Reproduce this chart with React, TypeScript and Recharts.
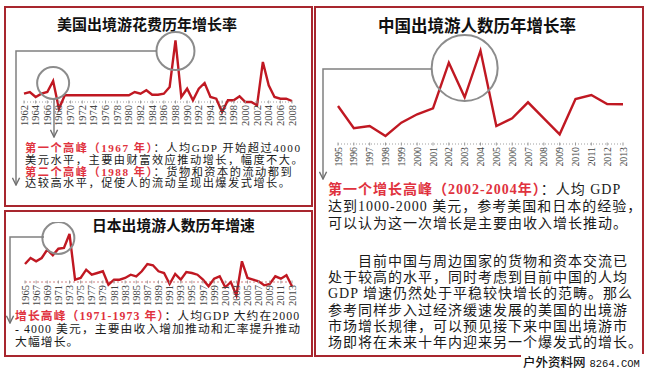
import { LineChart, Line, XAxis, YAxis, ReferenceLine, ReferenceDot } from 'recharts'

// 美国出境游花费历年增长率 (1962-2008)
const usYears = [
  1962, 1963, 1964, 1965, 1966, 1967, 1968, 1969, 1970, 1971, 1972, 1973, 1974, 1975, 1976, 1977,
  1978, 1979, 1980, 1981, 1982, 1983, 1984, 1985, 1986, 1987, 1988, 1989, 1990, 1991, 1992, 1993,
  1994, 1995, 1996, 1997, 1998, 1999, 2000, 2001, 2002, 2003, 2004, 2005, 2006, 2007, 2008,
]
const usGrowth = [
  8.3, 10, 5, 8.3, 10, 21, -6.7, 6.7, 6.7, 6.7, 6.7, 6.7, 6.7, 6.7, 6.7, 6.7,
  6.7, 6.7, 6.7, 10, 8.3, 11.7, 7.3, 7.3, 8.3, 15, 61.7, 5, 13.3, 1.7, 13.3, 19,
  5, 3.3, -10, 1.7, 1.7, 5.7, 0, 0, -3.3, 40, 16.7, 5, 3.3, 3.3, 1,
]

// 日本出境游人数历年增速 (1965-2013)
const jpYears = [
  1965, 1966, 1967, 1968, 1969, 1970, 1971, 1972, 1973, 1974, 1975, 1976, 1977, 1978, 1979, 1980,
  1981, 1982, 1983, 1984, 1985, 1986, 1987, 1988, 1989, 1990, 1991, 1992, 1993, 1994, 1995, 1996,
  1997, 1998, 1999, 2000, 2001, 2002, 2003, 2004, 2005, 2006, 2007, 2008, 2009, 2010, 2011, 2012, 2013,
]
const jpGrowth = [
  18, 24, 20.7, 24, 32.3, 26.7, 33.3, 34, 48, 2.3, 4, 12.3, 7.3, 9, 10.7, -2.7,
  2.3, 2.3, 4, 7.3, 5.7, 10.7, 18, 16.7, 10.7, 9, -2, 8, 2.3, 10, 9, 7.3,
  2.3, -4.3, 3.3, 5.7, -5.3, 0, -13.3, 20.7, 4, 2.3, 0.7, -3.3, -2, 5.7, 3.3, 6.7, -4.3,
]

// 中国出境游人数历年增长率 (1995-2013)
const cnYears = [
  1995, 1996, 1997, 1998, 1999, 2000, 2001, 2002, 2003, 2004, 2005, 2006, 2007, 2008, 2009, 2010,
  2011, 2012, 2013,
]
const cnGrowth = [38, 15.7, 18, 8, 21.3, 29.7, 35.7, 81.3, 46.7, 93.3, 18, 25.7, 41.7, 25.7, 9.7, 45, 49, 40, 39.7]

const usData = usYears.map((year, i) => ({ year, growth: usGrowth[i] }))
const jpData = jpYears.map((year, i) => ({ year, growth: jpGrowth[i] }))
const cnData = cnYears.map((year, i) => ({ year, growth: cnGrowth[i] }))

const serifCJK = "'Liberation Serif', 'Noto Sans CJK SC', serif"
const sansCJK = "'Noto Sans CJK SC', sans-serif"
const red = '#e0323e'
const frame = '#a8262e'
const lineColor = '#c01822'
const ringColor = '#8c8c8c'

function YearTick({ x, y, payload, lift, size }: any) {
  const zy = y - lift
  return (
    <g>
      <line x1={x} x2={x} y1={zy - 1.5} y2={zy + 1.5} stroke="#999" />
      <text
        transform={`translate(${x},${zy + 3}) rotate(-90)`}
        textAnchor="end"
        dominantBaseline="central"
        fontSize={size}
        fontFamily="'Liberation Serif', serif"
        fill="#444"
      >
        {payload.value}
      </text>
    </g>
  )
}

type Seg = [string, boolean?]

function TextLine({ segs, style }: { segs: Seg[]; style?: React.CSSProperties }) {
  return (
    <div style={{ whiteSpace: 'nowrap', ...style }}>
      {segs.map(([t, hot], i) => (
        <span key={i} style={hot ? { color: red, fontWeight: 700 } : undefined}>{t}</span>
      ))}
    </div>
  )
}

function Title({ text, left, top, size }: { text: string; left: number; top: number; size: number }) {
  return (
    <div
      style={{
        position: 'absolute', left, top, fontSize: size, lineHeight: `${size}px`,
        fontFamily: sansCJK, fontWeight: 700, color: '#111', whiteSpace: 'nowrap',
      }}
    >
      {text}
    </div>
  )
}

export default function App() {
  return (
    <div style={{ position: 'absolute', left: 0, top: 0, width: 650, height: 373, background: '#fff', overflow: 'hidden' }}>
      {/* frames */}
      <div style={{ position: 'absolute', left: 4, top: 6, width: 309, height: 201, border: `2px solid ${frame}`, boxSizing: 'border-box' }} />
      <div style={{ position: 'absolute', left: 4, top: 210, width: 309, height: 147, border: `2px solid ${frame}`, boxSizing: 'border-box' }} />
      <div style={{ position: 'absolute', left: 314, top: 6, width: 330, height: 351, border: `2px solid ${frame}`, boxSizing: 'border-box' }} />

      <Title text="美国出境游花费历年增长率" left={57} top={16} size={15} />
      <Title text="日本出境游人数历年增速" left={92} top={218} size={14.8} />
      <Title text="中国出境游人数历年增长率" left={378} top={17} size={16.5} />

      {/* US chart */}
      <div style={{ position: 'absolute', left: 0, top: 30 }}>
        <LineChart width={310} height={110} data={usData} margin={{ top: 6, right: 18, bottom: 0, left: 24 }}>
          <XAxis
            dataKey="year" scale="point" interval={1} height={26}
            axisLine={false} tickLine={false} tickSize={0} tickMargin={0}
            tick={(p: any) => <YearTick {...p} lift={12} size={10.5} />}
          />
          <YAxis hide domain={[-12, 66]} />
          <ReferenceLine y={0} stroke="#a0a0a0" strokeDasharray="1 2" />
          <Line dataKey="growth" stroke={lineColor} strokeWidth={2.4} dot={false} isAnimationActive={false} />
          <ReferenceDot x={1967} y={19} r={16} fill="none" stroke={ringColor} strokeWidth={2} />
          <ReferenceDot x={1988} y={51} r={19} fill="none" stroke={ringColor} strokeWidth={2} />
        </LineChart>
      </div>

      {/* Japan chart */}
      <div style={{ position: 'absolute', left: 0, top: 222 }}>
        <LineChart width={310} height={104} data={jpData} margin={{ top: 10, right: 18, bottom: 0, left: 25 }}>
          <XAxis
            dataKey="year" scale="point" interval={1} height={30}
            axisLine={false} tickLine={false} tickSize={0} tickMargin={0}
            tick={(p: any) => <YearTick {...p} lift={14} size={10.5} />}
          />
          <YAxis hide domain={[-14, 50]} />
          <ReferenceLine y={0} stroke="#d08080" strokeDasharray="2 2" />
          <Line dataKey="growth" stroke={lineColor} strokeWidth={2.4} dot={false} isAnimationActive={false} />
          <ReferenceDot x={1971} y={44} r={16} fill="none" stroke={ringColor} strokeWidth={2} />
        </LineChart>
      </div>

      {/* China chart */}
      <div style={{ position: 'absolute', left: 310, top: 30 }}>
        <LineChart width={335} height={145} data={cnData} margin={{ top: 14, right: 22, bottom: 0, left: 28 }}>
          <XAxis
            dataKey="year" scale="point" interval={0} height={31}
            axisLine={false} tickLine={false} tickSize={0} tickMargin={0}
            tick={(p: any) => <YearTick {...p} lift={0} size={9.8} />}
          />
          <YAxis hide domain={[0, 100]} />
          <ReferenceLine y={0} stroke="#a0a0a0" strokeDasharray="1 2" />
          <Line dataKey="growth" stroke={lineColor} strokeWidth={2.4} dot={false} isAnimationActive={false} />
          <ReferenceDot x={2003} y={76} r={33} fill="none" stroke={ringColor} strokeWidth={2} />
        </LineChart>
      </div>

      {/* connectors */}
      <svg width={650} height={373} style={{ position: 'absolute', left: 0, top: 0, pointerEvents: 'none' }}>
        <defs>
          <marker id="arr" viewBox="0 0 10 10" refX="9" refY="5" markerWidth="6" markerHeight="6" orient="auto">
            <path d="M1,1 L9,5 L1,9" fill="none" stroke="#707070" strokeWidth={1.6} />
          </marker>
        </defs>
        <g fill="none" stroke="#808080" strokeWidth={1.5}>
          <polyline points="157,51 16,51 16,185" markerEnd="url(#arr)" />
          <polyline points="54,99 54,137" markerEnd="url(#arr)" />
          <polyline points="44,237 10,237 10,323" markerEnd="url(#arr)" />
          <polyline points="432,69 323,69 323,179" markerEnd="url(#arr)" />
        </g>
      </svg>

      {/* US notes */}
      <div style={{ position: 'absolute', left: 25, top: 143, fontFamily: serifCJK, fontSize: 11.2, lineHeight: '11.8px', letterSpacing: 1.5, color: '#1a1a1a' }}>
        <TextLine segs={[['第一个高峰（1967 年）', true], ['：人均GDP 开始超过4000']]} />
        <TextLine segs={[['美元水平，主要由财富效应推动增长，幅度不大。']]} />
        <TextLine segs={[['第二个高峰（1988 年）', true], ['：货物和资本的流动都到']]} />
        <TextLine segs={[['达较高水平，促使人的流动呈现出爆发式增长。']]} />
      </div>

      {/* Japan notes */}
      <div style={{ position: 'absolute', left: 15, top: 310, fontFamily: serifCJK, fontSize: 11.8, lineHeight: '13px', letterSpacing: 1.1, color: '#1a1a1a' }}>
        <TextLine segs={[['增长高峰（1971-1973 年）', true], ['：人均GDP 大约在2000']]} />
        <TextLine segs={[['- 4000 美元，主要由收入增加推动和汇率提升推动']]} />
        <TextLine segs={[['大幅增长。']]} />
      </div>

      {/* China notes */}
      <div style={{ position: 'absolute', left: 328, top: 181, fontFamily: serifCJK, fontSize: 14, lineHeight: '17px', letterSpacing: 1, color: '#1a1a1a' }}>
        <TextLine segs={[['第一个增长高峰（2002-2004年）', true], ['：人均 GDP']]} />
        <TextLine segs={[['达到1000-2000 美元，参考美国和日本的经验，']]} />
        <TextLine segs={[['可以认为这一次增长是主要由收入增长推动。']]} />
      </div>
      <div style={{ position: 'absolute', left: 328, top: 254, fontFamily: serifCJK, fontSize: 14, lineHeight: '16.2px', letterSpacing: 1, color: '#1a1a1a' }}>
        <TextLine segs={[['　　目前中国与周边国家的货物和资本交流已']]} />
        <TextLine segs={[['处于较高的水平，同时考虑到目前中国的人均']]} />
        <TextLine segs={[['GDP 增速仍然处于平稳较快增长的范畴。那么']]} />
        <TextLine segs={[['参考同样步入过经济缓速发展的美国的出境游']]} />
        <TextLine segs={[['市场增长规律，可以预见接下来中国出境游市']]} />
        <TextLine segs={[['场即将在未来十年内迎来另一个爆发式的增长。']]} />
      </div>

      {/* watermark */}
      <div style={{ position: 'absolute', left: 521, top: 354, background: '#fff', padding: '0 4px 0 2px', whiteSpace: 'nowrap', color: '#111', lineHeight: '15px' }}>
        <span style={{ fontFamily: sansCJK, fontSize: 12.5, fontWeight: 500 }}>户外资料网</span>
        <span style={{ fontFamily: "'Liberation Mono', monospace", fontSize: 10.5, marginLeft: 4 }}>8264.COM</span>
      </div>
    </div>
  )
}
